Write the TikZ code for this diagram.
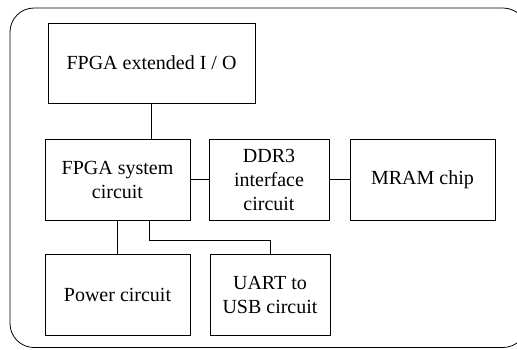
\documentclass[tikz,border=0pt]{standalone}
\usepackage{fontspec}
\setmainfont{Liberation Serif}
\begin{document}
\begin{tikzpicture}[x=1pt,y=-1pt,
  blk/.style={draw, line width=0.8pt, rectangle, inner sep=0pt, align=center,
    font=\fontsize{20}{24}\selectfont},
  wire/.style={line width=0.8pt}]
\useasboundingbox (0,0) rectangle (517,349);
\begin{scope}
\clip (0,0) rectangle (517,349);
\draw[line width=0.8pt, rounded corners=24pt] (10,8) rectangle (527,347.5);
\end{scope}
\node[blk, minimum width=207pt, minimum height=80pt] (ext) at (151.5,63) {FPGA extended I / O};
\node[blk, minimum width=145pt, minimum height=81pt] (sys) at (117.5,179.5) {FPGA system\\circuit};
\node[blk, minimum width=120pt, minimum height=81pt] (ddr) at (269,179.5) {DDR3\\interface\\circuit};
\node[blk, minimum width=145pt, minimum height=81pt] (mram) at (422.5,179.5) {MRAM chip};
\node[blk, minimum width=145pt, minimum height=81pt] (pwr) at (117.5,294.5) {Power circuit};
\node[blk, minimum width=120pt, minimum height=81pt] (uart) at (270,294.5) {UART to\\USB circuit};
\draw[wire] (ext.south) -- (ext.south |- sys.north);
\draw[wire] (sys.east) -- (ddr.west);
\draw[wire] (ddr.east) -- (mram.west);
\draw[wire] (sys.south) -- (pwr.north);
\coordinate (tap) at (149,220);
\coordinate (bend) at (149,240);
\draw[wire] (sys.south -| tap) -- (bend) -- (bend -| uart.north) -- (uart.north);
\end{tikzpicture}
\end{document}
